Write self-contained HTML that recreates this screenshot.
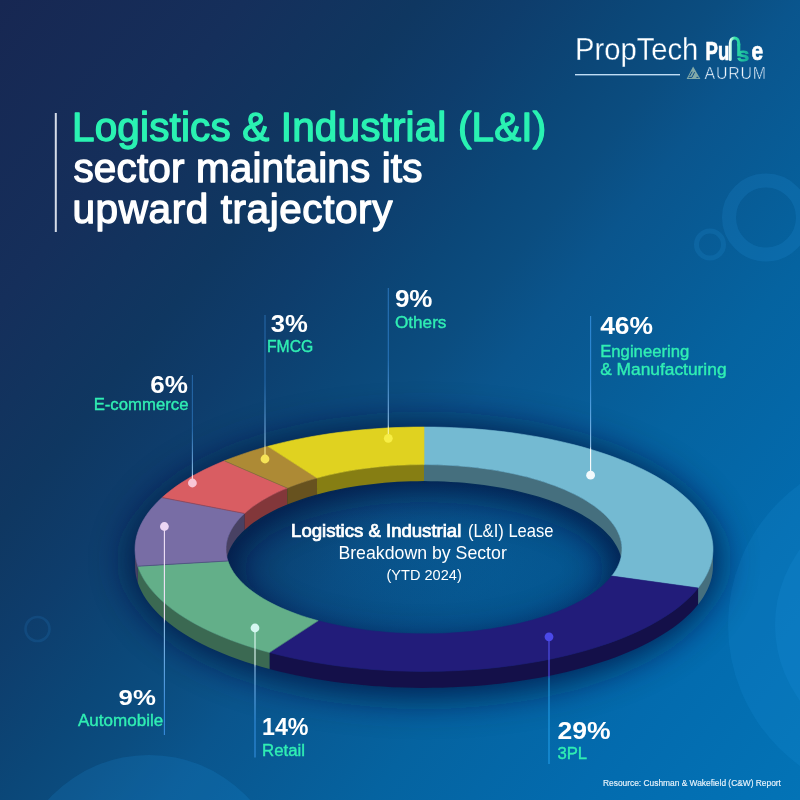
<!DOCTYPE html>
<html lang="en">
<head>
<meta charset="utf-8">
<title>Logistics &amp; Industrial (L&amp;I) sector maintains its upward trajectory</title>
<style>
html,body{margin:0;padding:0;width:800px;height:800px;overflow:hidden;background:#10538F;}
svg{display:block;font-family:"Liberation Sans",sans-serif;}
.g{fill:#2AF2B2;}
.w{fill:#ffffff;}
.pct{font-weight:700;fill:#fff;}
.lab{fill:#30EEB3;stroke:#30EEB3;stroke-width:0.4px;}
.h{font-size:40.5px;stroke-width:1.3px;stroke-linejoin:round;}
</style>
</head>
<body>
<svg width="800" height="800" viewBox="0 0 800 800">
<defs>
  <linearGradient id="bg" gradientUnits="userSpaceOnUse" x1="0" y1="0" x2="878" y2="702.4">
    <stop offset="0" stop-color="#172752"/>
    <stop offset="0.17" stop-color="#152F5B"/>
    <stop offset="0.29" stop-color="#0F3761"/>
    <stop offset="0.364" stop-color="#0E3D6C"/>
    <stop offset="0.445" stop-color="#0B4778"/>
    <stop offset="0.5" stop-color="#0B4D80"/>
    <stop offset="0.555" stop-color="#0A558D"/>
    <stop offset="0.7" stop-color="#0563A0"/>
    <stop offset="0.84" stop-color="#036BAE"/>
    <stop offset="1" stop-color="#0373B6"/>
  </linearGradient>
  <linearGradient id="wave" gradientUnits="userSpaceOnUse" x1="729" y1="0" x2="749" y2="0">
    <stop offset="0" stop-color="#ffffff"/>
    <stop offset="0.3" stop-color="#2FE3A6"/>
    <stop offset="1" stop-color="#14A79B"/>
  </linearGradient>
  <radialGradient id="hole">
    <stop offset="0" stop-color="#05143F" stop-opacity="0.06"/>
    <stop offset="0.4" stop-color="#05143F" stop-opacity="0.1"/>
    <stop offset="0.7" stop-color="#05143F" stop-opacity="0.17"/>
    <stop offset="0.85" stop-color="#05143F" stop-opacity="0.24"/>
    <stop offset="1" stop-color="#05143F" stop-opacity="0.36"/>
  </radialGradient>
  <filter id="sh" x="-20%" y="-40%" width="140%" height="180%">
    <feGaussianBlur stdDeviation="13"/><feGaussianBlur stdDeviation="12.5"/>
  </filter>
</defs>
<rect width="800" height="800" fill="url(#bg)"/>

<!-- decorative circles -->
<circle cx="766" cy="217.5" r="37" fill="none" stroke="#2A9BE6" stroke-opacity="0.17" stroke-width="14"/>
<circle cx="710" cy="244.5" r="13.5" fill="none" stroke="#2A9BE6" stroke-opacity="0.16" stroke-width="5"/>
<circle cx="37.5" cy="629" r="12" fill="none" stroke="#2A8AD6" stroke-opacity="0.17" stroke-width="2.6"/>
<circle cx="149" cy="891" r="136" fill="#1E9AEA" fill-opacity="0.16"/>
<circle cx="902" cy="625" r="174" fill="#2AA6F0" fill-opacity="0.13"/>
<circle cx="902" cy="625" r="127" fill="#2AA6F0" fill-opacity="0.13"/>

<!-- logo -->
<g id="logo">
<text transform="translate(575.00 60.10) scale(0.9422 1)" font-size="31" class="w" stroke="#0C528B" stroke-width="0.3">PropTech</text>
<text transform="translate(704.60 78.50) scale(0.9609 1)" font-size="16.6" class="w" stroke="#0C5A98" stroke-width="0.55" letter-spacing="0.8">AURUM</text>
  <path d="M730.3 59.5 V43 C730.3 36.2 738.7 36.2 738.7 43 V45" fill="none" stroke="url(#wave)" stroke-width="3" stroke-linecap="round"/>
  <text y="60.3" font-size="25" font-weight="700" fill="#fff" stroke="#fff" stroke-width="0.7"><tspan x="705.6" textLength="23.7" lengthAdjust="spacingAndGlyphs">Pu</tspan><tspan x="736.45" y="55.6" font-size="17" fill="url(#wave)" stroke="url(#wave)" stroke-width="0.6">l</tspan><tspan x="737.6" y="61.3" font-size="19" font-weight="400" fill="url(#wave)" stroke="url(#wave)" stroke-width="1.1" textLength="11.4" lengthAdjust="spacingAndGlyphs">s</tspan><tspan x="751.5" y="60.3" textLength="11.6" lengthAdjust="spacingAndGlyphs">e</tspan></text>
  <rect x="575" y="74" width="105" height="1.4" fill="#BFDDF5"/>
  <path d="M686.6 78.9 L693.1 66.4 L700.4 78.9 Z" fill="#8FB4AC" fill-opacity="0.9"/>
  <path d="M688.6 77.4 H691.9 L694.6 72.2 M692.2 71.6 L689.6 76.2 M696.4 77.4 H698.4" fill="none" stroke="#0B4C86" stroke-width="1"/>
</g>

<!-- heading -->
<rect x="54.8" y="113" width="2" height="119" fill="#D5DCE8"/>
<text x="72" y="140.6" class="h g" stroke="#2AF2B2" letter-spacing="0.14">Logistics &amp; Industrial (L&amp;I)</text>
<text x="73.5" y="182.25" class="h w" stroke="#ffffff" letter-spacing="0.12">sector maintains its</text>
<text x="72.5" y="223.4" class="h w" stroke="#ffffff" letter-spacing="0.58">upward trajectory</text>

<!-- donut shadow -->
<path d="M135.00 557.45 A289.00 130.45 0 1 1 713.00 557.45 A289.00 130.45 0 1 1 135.00 557.45 Z M226.00 565.70 A198.00 84.60 0 1 0 622.00 565.70 A198.00 84.60 0 1 0 226.00 565.70 Z" fill="#05143F" stroke="#05143F" stroke-width="16" fill-rule="evenodd" filter="url(#sh)" opacity="0.78" transform="translate(0,3)"/>
<ellipse cx="424" cy="562" rx="200" ry="92" fill="url(#hole)"/>

<!-- donut -->
<g id="donut">
<path d="M424.00 464.60 L430.76 464.65 L437.51 464.80 L444.25 465.04 L450.96 465.39 L457.64 465.83 L464.28 466.37 L470.88 467.01 L477.42 467.74 L483.90 468.56 L490.31 469.48 L496.64 470.50 L502.88 471.60 L509.04 472.80 L515.09 474.08 L521.04 475.46 L526.88 476.92 L532.59 478.46 L538.18 480.08 L543.64 481.79 L548.96 483.57 L554.13 485.44 L559.15 487.37 L564.01 489.38 L568.71 491.46 L573.24 493.60 L577.59 495.81 L581.77 498.08 L585.76 500.41 L589.56 502.80 L593.18 505.24 L596.59 507.74 L599.80 510.28 L602.81 512.87 L605.61 515.50 L608.20 518.16 L610.57 520.87 L612.72 523.61 L614.66 526.38 L616.37 529.17 L617.86 531.99 L619.12 534.83 L620.16 537.68 L620.96 540.55 L621.54 543.43 L621.88 546.31 L622.00 549.20 L622.00 565.70 L621.88 562.81 L621.54 559.93 L620.96 557.05 L620.16 554.18 L619.12 551.33 L617.86 548.49 L616.37 545.67 L614.66 542.88 L612.72 540.11 L610.57 537.37 L608.20 534.66 L605.61 532.00 L602.81 529.37 L599.80 526.78 L596.59 524.24 L593.18 521.74 L589.56 519.30 L585.76 516.91 L581.77 514.58 L577.59 512.31 L573.24 510.10 L568.71 507.96 L564.01 505.88 L559.15 503.87 L554.13 501.94 L548.96 500.07 L543.64 498.29 L538.18 496.58 L532.59 494.96 L526.88 493.42 L521.04 491.96 L515.09 490.58 L509.04 489.30 L502.88 488.10 L496.64 487.00 L490.31 485.98 L483.90 485.06 L477.42 484.24 L470.88 483.51 L464.28 482.87 L457.64 482.33 L450.96 481.89 L444.25 481.54 L437.51 481.30 L430.76 481.15 L424.00 481.10Z" fill="#456F7E"/>
<path d="M226.00 549.20 L226.11 546.36 L226.45 543.53 L227.00 540.70 L227.78 537.88 L228.78 535.07 L230.00 532.28 L231.44 529.51 L233.09 526.76 L234.97 524.03 L237.05 521.33 L239.34 518.67 L241.84 516.04 L244.55 513.45 L244.55 529.95 L241.84 532.54 L239.34 535.17 L237.05 537.83 L234.97 540.53 L233.09 543.26 L231.44 546.01 L230.00 548.78 L228.78 551.57 L227.78 554.38 L227.00 557.20 L226.45 560.03 L226.11 562.86 L226.00 565.70Z" fill="#484163"/>
<path d="M244.55 513.45 L247.48 510.88 L250.61 508.35 L253.94 505.87 L257.47 503.44 L261.18 501.06 L265.08 498.74 L269.16 496.47 L273.42 494.27 L277.85 492.12 L282.45 490.05 L287.21 488.04 L287.21 504.54 L282.45 506.55 L277.85 508.62 L273.42 510.77 L269.16 512.97 L265.08 515.24 L261.18 517.56 L257.47 519.94 L253.94 522.37 L250.61 524.85 L247.48 527.38 L244.55 529.95Z" fill="#82373A"/>
<path d="M287.21 488.04 L291.85 486.20 L296.64 484.42 L301.56 482.72 L306.60 481.08 L311.76 479.51 L317.03 478.01 L317.03 494.51 L311.76 496.01 L306.60 497.58 L301.56 499.22 L296.64 500.92 L291.85 502.70 L287.21 504.54Z" fill="#67521F"/>
<path d="M317.03 478.01 L322.69 476.51 L328.45 475.10 L334.33 473.77 L340.30 472.53 L346.37 471.37 L352.53 470.30 L358.77 469.32 L365.08 468.43 L371.46 467.63 L377.90 466.93 L384.39 466.31 L390.92 465.79 L397.49 465.36 L404.09 465.03 L410.72 464.79 L417.35 464.65 L424.00 464.60 L424.00 481.10 L417.35 481.15 L410.72 481.29 L404.09 481.53 L397.49 481.86 L390.92 482.29 L384.39 482.81 L377.90 483.43 L371.46 484.13 L365.08 484.93 L358.77 485.82 L352.53 486.80 L346.37 487.87 L340.30 489.03 L334.33 490.27 L328.45 491.60 L322.69 493.01 L317.03 494.51Z" fill="#867E13"/>
<path d="M713.00 549.20 L712.85 553.14 L712.40 557.09 L711.65 561.02 L710.59 564.94 L709.24 568.84 L707.59 572.73 L705.65 576.59 L703.41 580.42 L700.88 584.21 L698.07 587.97 L698.07 604.47 L700.88 600.71 L703.41 596.92 L705.65 593.09 L707.59 589.23 L709.24 585.34 L710.59 581.44 L711.65 577.52 L712.40 573.59 L712.85 569.64 L713.00 565.70Z" fill="#456F7E"/>
<path d="M698.07 587.97 L694.71 591.99 L691.02 595.95 L687.00 599.85 L682.67 603.70 L678.02 607.47 L673.07 611.18 L667.81 614.81 L662.26 618.36 L656.42 621.83 L650.29 625.21 L643.90 628.49 L637.23 631.68 L630.31 634.78 L623.13 637.76 L615.72 640.64 L608.07 643.41 L600.19 646.06 L592.11 648.60 L583.82 651.01 L575.33 653.31 L566.66 655.47 L557.82 657.51 L548.82 659.41 L539.67 661.19 L530.37 662.82 L520.95 664.32 L511.40 665.68 L501.76 666.89 L492.01 667.97 L482.19 668.90 L472.29 669.68 L462.34 670.32 L452.34 670.81 L442.30 671.15 L432.24 671.35 L422.18 671.40 L412.11 671.30 L402.06 671.05 L392.04 670.65 L382.05 670.11 L372.12 669.41 L362.24 668.58 L352.45 667.60 L342.74 666.47 L333.13 665.20 L323.63 663.79 L314.25 662.25 L305.00 660.56 L295.90 658.74 L286.95 656.79 L278.17 654.70 L269.57 652.49 L269.57 668.99 L278.17 671.20 L286.95 673.29 L295.90 675.24 L305.00 677.06 L314.25 678.75 L323.63 680.29 L333.13 681.70 L342.74 682.97 L352.45 684.10 L362.24 685.08 L372.12 685.91 L382.05 686.61 L392.04 687.15 L402.06 687.55 L412.11 687.80 L422.18 687.90 L432.24 687.85 L442.30 687.65 L452.34 687.31 L462.34 686.82 L472.29 686.18 L482.19 685.40 L492.01 684.47 L501.76 683.39 L511.40 682.18 L520.95 680.82 L530.37 679.32 L539.67 677.69 L548.82 675.91 L557.82 674.01 L566.66 671.97 L575.33 669.81 L583.82 667.51 L592.11 665.10 L600.19 662.56 L608.07 659.91 L615.72 657.14 L623.13 654.26 L630.31 651.28 L637.23 648.18 L643.90 644.99 L650.29 641.71 L656.42 638.33 L662.26 634.86 L667.81 631.31 L673.07 627.68 L678.02 623.97 L682.67 620.20 L687.00 616.35 L691.02 612.45 L694.71 608.49 L698.07 604.47Z" fill="#141049"/>
<path d="M269.57 652.49 L261.19 650.16 L253.01 647.71 L245.03 645.15 L237.26 642.46 L229.72 639.67 L222.42 636.76 L215.36 633.76 L208.54 630.64 L201.99 627.43 L195.71 624.13 L189.70 620.74 L183.97 617.26 L178.53 613.70 L173.39 610.06 L168.54 606.34 L164.01 602.56 L159.79 598.72 L155.89 594.81 L152.30 590.85 L149.05 586.84 L146.13 582.78 L143.54 578.69 L141.29 574.56 L139.38 570.39 L137.81 566.21 L137.81 582.71 L139.38 586.89 L141.29 591.06 L143.54 595.19 L146.13 599.28 L149.05 603.34 L152.30 607.35 L155.89 611.31 L159.79 615.22 L164.01 619.06 L168.54 622.84 L173.39 626.56 L178.53 630.20 L183.97 633.76 L189.70 637.24 L195.71 640.63 L201.99 643.93 L208.54 647.14 L215.36 650.26 L222.42 653.26 L229.72 656.17 L237.26 658.96 L245.03 661.65 L253.01 664.21 L261.19 666.66 L269.57 668.99Z" fill="#3B6952"/>
<path d="M137.81 566.21 L136.80 562.82 L136.01 559.43 L135.45 556.02 L135.11 552.61 L135.00 549.20 L135.00 565.70 L135.11 569.11 L135.45 572.52 L136.01 575.93 L136.80 579.32 L137.81 582.71Z" fill="#484163"/>
<path d="M424.00 427.00 L433.95 427.07 L443.89 427.29 L453.80 427.65 L463.68 428.16 L473.51 428.81 L483.28 429.60 L492.98 430.53 L502.60 431.61 L512.13 432.82 L521.55 434.17 L530.86 435.66 L540.04 437.28 L549.08 439.04 L557.97 440.92 L566.71 442.94 L575.28 445.08 L583.66 447.34 L591.86 449.73 L599.86 452.23 L607.65 454.85 L615.22 457.57 L622.57 460.41 L629.68 463.36 L636.55 466.40 L643.16 469.54 L649.52 472.78 L655.60 476.11 L661.42 479.52 L666.95 483.02 L672.19 486.60 L677.14 490.24 L681.79 493.96 L686.14 497.75 L690.17 501.60 L693.89 505.50 L697.28 509.45 L700.36 513.45 L703.11 517.50 L705.52 521.58 L707.60 525.69 L709.35 529.83 L710.76 534.00 L711.82 538.18 L712.55 542.38 L712.93 546.58 L712.98 550.79 L712.67 555.00 L712.03 559.19 L711.05 563.38 L709.72 567.55 L708.06 571.70 L706.06 575.82 L703.73 579.91 L701.06 583.96 L698.07 587.97 L611.77 576.04 L613.82 573.27 L615.65 570.46 L617.25 567.63 L618.62 564.78 L619.75 561.90 L620.66 559.02 L621.34 556.12 L621.78 553.21 L621.98 550.30 L621.95 547.39 L621.69 544.48 L621.19 541.57 L620.46 538.68 L619.50 535.79 L618.30 532.93 L616.88 530.08 L615.22 527.25 L613.34 524.45 L611.23 521.68 L608.91 518.94 L606.36 516.24 L603.59 513.58 L600.62 510.96 L597.43 508.38 L594.04 505.86 L590.45 503.38 L586.66 500.96 L582.68 498.60 L578.51 496.29 L574.15 494.05 L569.62 491.88 L564.91 489.77 L560.04 487.73 L555.01 485.77 L549.82 483.88 L544.48 482.07 L539.00 480.33 L533.39 478.68 L527.64 477.12 L521.77 475.63 L515.79 474.24 L509.69 472.93 L503.50 471.72 L497.21 470.60 L490.83 469.57 L484.38 468.63 L477.85 467.79 L471.26 467.05 L464.61 466.40 L457.92 465.85 L451.18 465.40 L444.42 465.05 L437.62 464.80 L430.82 464.65 L424.00 464.60Z" fill="#74BAD2" stroke="#74BAD2" stroke-width="0.6"/>
<path d="M698.07 587.97 L694.71 591.99 L691.02 595.95 L687.00 599.85 L682.67 603.70 L678.02 607.47 L673.07 611.18 L667.81 614.81 L662.26 618.36 L656.42 621.83 L650.29 625.21 L643.90 628.49 L637.23 631.68 L630.31 634.78 L623.13 637.76 L615.72 640.64 L608.07 643.41 L600.19 646.06 L592.11 648.60 L583.82 651.01 L575.33 653.31 L566.66 655.47 L557.82 657.51 L548.82 659.41 L539.67 661.19 L530.37 662.82 L520.95 664.32 L511.40 665.68 L501.76 666.89 L492.01 667.97 L482.19 668.90 L472.29 669.68 L462.34 670.32 L452.34 670.81 L442.30 671.15 L432.24 671.35 L422.18 671.40 L412.11 671.30 L402.06 671.05 L392.04 670.65 L382.05 670.11 L372.12 669.41 L362.24 668.58 L352.45 667.60 L342.74 666.47 L333.13 665.20 L323.63 663.79 L314.25 662.25 L305.00 660.56 L295.90 658.74 L286.95 656.79 L278.17 654.70 L269.57 652.49 L318.20 620.71 L324.09 622.24 L330.11 623.68 L336.24 625.04 L342.47 626.30 L348.81 627.46 L355.23 628.53 L361.74 629.51 L368.33 630.39 L374.98 631.17 L381.69 631.85 L388.45 632.43 L395.26 632.90 L402.10 633.28 L408.97 633.56 L415.85 633.73 L422.75 633.80 L429.65 633.77 L436.54 633.63 L443.41 633.39 L450.27 633.05 L457.09 632.61 L463.87 632.07 L470.60 631.42 L477.27 630.68 L483.88 629.84 L490.42 628.90 L496.88 627.86 L503.24 626.73 L509.52 625.50 L515.69 624.18 L521.74 622.77 L527.68 621.27 L533.49 619.69 L539.17 618.01 L544.71 616.26 L550.11 614.42 L555.35 612.51 L560.43 610.51 L565.34 608.44 L570.09 606.30 L574.66 604.10 L579.04 601.82 L583.23 599.48 L587.24 597.08 L591.04 594.62 L594.64 592.11 L598.04 589.54 L601.22 586.93 L604.19 584.27 L606.94 581.56 L609.47 578.82 L611.77 576.04Z" fill="#221C7A" stroke="#221C7A" stroke-width="0.6"/>
<path d="M269.57 652.49 L261.19 650.16 L253.01 647.71 L245.03 645.15 L237.26 642.46 L229.72 639.67 L222.42 636.76 L215.36 633.76 L208.54 630.64 L201.99 627.43 L195.71 624.13 L189.70 620.74 L183.97 617.26 L178.53 613.70 L173.39 610.06 L168.54 606.34 L164.01 602.56 L159.79 598.72 L155.89 594.81 L152.30 590.85 L149.05 586.84 L146.13 582.78 L143.54 578.69 L141.29 574.56 L139.38 570.39 L137.81 566.21 L227.93 560.97 L229.00 563.87 L230.31 566.75 L231.85 569.62 L233.62 572.45 L235.63 575.26 L237.86 578.03 L240.31 580.78 L242.98 583.48 L245.88 586.14 L248.98 588.76 L252.30 591.33 L255.82 593.85 L259.55 596.32 L263.47 598.73 L267.59 601.08 L271.90 603.36 L276.39 605.58 L281.05 607.74 L285.89 609.82 L290.90 611.83 L296.06 613.77 L301.38 615.63 L306.85 617.40 L312.46 619.10 L318.20 620.71Z" fill="#63AF89" stroke="#63AF89" stroke-width="0.6"/>
<path d="M137.81 566.21 L136.61 562.10 L135.75 557.97 L135.21 553.84 L135.00 549.70 L135.13 545.56 L135.59 541.43 L136.37 537.30 L137.49 533.19 L138.94 529.09 L140.71 525.02 L142.81 520.98 L145.24 516.97 L147.98 512.99 L151.04 509.06 L154.41 505.17 L158.09 501.34 L162.08 497.56 L244.55 513.45 L241.82 516.06 L239.30 518.72 L236.99 521.41 L234.89 524.13 L233.01 526.88 L231.35 529.66 L229.91 532.46 L228.70 535.28 L227.71 538.11 L226.94 540.96 L226.40 543.82 L226.09 546.68 L226.00 549.55 L226.14 552.41 L226.51 555.27 L227.11 558.13 L227.93 560.97Z" fill="#786DA5" stroke="#786DA5" stroke-width="0.6"/>
<path d="M162.08 497.56 L166.35 493.84 L170.92 490.19 L175.78 486.61 L180.93 483.10 L186.35 479.67 L192.04 476.31 L198.00 473.04 L204.21 469.85 L210.68 466.76 L217.39 463.76 L224.33 460.85 L287.21 488.04 L282.45 490.05 L277.85 492.12 L273.42 494.27 L269.16 496.47 L265.08 498.74 L261.18 501.06 L257.47 503.44 L253.94 505.87 L250.61 508.35 L247.48 510.88 L244.55 513.45Z" fill="#D95D62" stroke="#D95D62" stroke-width="0.6"/>
<path d="M224.33 460.85 L231.12 458.20 L238.11 455.64 L245.28 453.17 L252.64 450.80 L260.17 448.53 L267.87 446.37 L317.03 478.01 L311.76 479.51 L306.60 481.08 L301.56 482.72 L296.64 484.42 L291.85 486.20 L287.21 488.04Z" fill="#AD8A35" stroke="#AD8A35" stroke-width="0.6"/>
<path d="M267.87 446.37 L276.12 444.21 L284.54 442.17 L293.11 440.25 L301.84 438.45 L310.70 436.78 L319.68 435.24 L328.79 433.82 L338.00 432.54 L347.31 431.38 L356.71 430.36 L366.18 429.47 L375.72 428.72 L385.31 428.10 L394.94 427.62 L404.61 427.28 L414.30 427.07 L424.00 427.00 L424.00 464.60 L417.35 464.65 L410.72 464.79 L404.09 465.03 L397.49 465.36 L390.92 465.79 L384.39 466.31 L377.90 466.93 L371.46 467.63 L365.08 468.43 L358.77 469.32 L352.53 470.30 L346.37 471.37 L340.30 472.53 L334.33 473.77 L328.45 475.10 L322.69 476.51 L317.03 478.01Z" fill="#E0D220" stroke="#E0D220" stroke-width="0.6"/>
<path d="M318.20 620.71 L269.57 652.49" stroke="#1E2C55" stroke-opacity="0.35" stroke-width="0.7" fill="none"/>
<path d="M227.93 560.97 L137.81 566.21" stroke="#1E2C55" stroke-opacity="0.55" stroke-width="0.7" fill="none"/>
<path d="M244.55 513.45 L162.08 497.56" stroke="#1E2C55" stroke-opacity="0.45" stroke-width="0.7" fill="none"/>
<path d="M287.21 488.04 L224.33 460.85" stroke="#1E2C55" stroke-opacity="0.30" stroke-width="0.7" fill="none"/>
</g>

<!-- leader lines -->
<defs>
<linearGradient id="ll0" gradientUnits="userSpaceOnUse" x1="0" y1="475.2" x2="0" y2="316.0"><stop offset="0" stop-color="#FFFFFF"/><stop offset="0.160" stop-color="#FFFFFF"/><stop offset="0.180" stop-color="#9CCDF5" stop-opacity="0.9"/><stop offset="0.610" stop-color="#3A97EA" stop-opacity="0.75"/><stop offset="1" stop-color="#3A97EA" stop-opacity="0.75"/></linearGradient>
<linearGradient id="ll1" gradientUnits="userSpaceOnUse" x1="0" y1="438.3" x2="0" y2="288.0"><stop offset="0" stop-color="#FBF6A8"/><stop offset="0.070" stop-color="#FBF6A8"/><stop offset="0.090" stop-color="#9CCDF5" stop-opacity="0.9"/><stop offset="0.520" stop-color="#3A8EE0" stop-opacity="0.60"/><stop offset="1" stop-color="#3A8EE0" stop-opacity="0.60"/></linearGradient>
<linearGradient id="ll2" gradientUnits="userSpaceOnUse" x1="0" y1="459.0" x2="0" y2="315.0"><stop offset="0" stop-color="#F8EA90"/><stop offset="0.080" stop-color="#F8EA90"/><stop offset="0.100" stop-color="#9CCDF5" stop-opacity="0.9"/><stop offset="0.530" stop-color="#3A8EE0" stop-opacity="0.50"/><stop offset="1" stop-color="#3A8EE0" stop-opacity="0.50"/></linearGradient>
<linearGradient id="ll3" gradientUnits="userSpaceOnUse" x1="0" y1="483.0" x2="0" y2="375.0"><stop offset="0" stop-color="#FADCE6"/><stop offset="0.065" stop-color="#FADCE6"/><stop offset="0.085" stop-color="#9CCDF5" stop-opacity="0.9"/><stop offset="0.515" stop-color="#3A8EE0" stop-opacity="0.50"/><stop offset="1" stop-color="#3A8EE0" stop-opacity="0.50"/></linearGradient>
<linearGradient id="ll4" gradientUnits="userSpaceOnUse" x1="0" y1="526.5" x2="0" y2="735.0"><stop offset="0" stop-color="#F0E2F8"/><stop offset="0.446" stop-color="#F0E2F8"/><stop offset="0.466" stop-color="#9CCDF5" stop-opacity="0.9"/><stop offset="0.896" stop-color="#3F95EA" stop-opacity="0.85"/><stop offset="1" stop-color="#3F95EA" stop-opacity="0.85"/></linearGradient>
<linearGradient id="ll5" gradientUnits="userSpaceOnUse" x1="0" y1="628.0" x2="0" y2="757.5"><stop offset="0" stop-color="#E0FAF4"/><stop offset="0.284" stop-color="#E0FAF4"/><stop offset="0.304" stop-color="#9CCDF5" stop-opacity="0.9"/><stop offset="0.734" stop-color="#3A97EA" stop-opacity="0.85"/><stop offset="1" stop-color="#3A97EA" stop-opacity="0.85"/></linearGradient>
<linearGradient id="ll6" gradientUnits="userSpaceOnUse" x1="0" y1="636.8" x2="0" y2="764.0"><stop offset="0" stop-color="#5050EE"/><stop offset="0.310" stop-color="#5050EE"/><stop offset="0.330" stop-color="#22A0EC" stop-opacity="0.9"/><stop offset="0.760" stop-color="#22A0EC" stop-opacity="0.90"/><stop offset="1" stop-color="#22A0EC" stop-opacity="0.90"/></linearGradient>
</defs>
<rect x="590.05" y="316.0" width="1.1" height="159.2" fill="url(#ll0)"/>
<rect x="387.75" y="288.0" width="1.1" height="150.3" fill="url(#ll1)"/>
<rect x="264.45" y="315.0" width="1.1" height="144.0" fill="url(#ll2)"/>
<rect x="191.85" y="375.0" width="1.1" height="108.0" fill="url(#ll3)"/>
<rect x="163.85" y="526.5" width="1.1" height="208.5" fill="url(#ll4)"/>
<rect x="254.45" y="628.0" width="1.1" height="129.5" fill="url(#ll5)"/>
<rect x="548.45" y="636.8" width="1.1" height="127.2" fill="url(#ll6)"/>
<circle cx="590.6" cy="475.2" r="4.4" fill="#F2FAFD"/>
<circle cx="388.3" cy="438.3" r="4.4" fill="#F7EE45"/>
<circle cx="265.0" cy="459.0" r="4.4" fill="#F6E356"/>
<circle cx="192.4" cy="483.0" r="4.4" fill="#F8C6D6"/>
<circle cx="164.4" cy="526.5" r="4.4" fill="#ECD6F4"/>
<circle cx="255.0" cy="628.0" r="4.4" fill="#D5F7F1"/>
<circle cx="549.0" cy="636.8" r="4.4" fill="#4B49E8"/>

<!-- labels -->
<text transform="translate(600.15 334.30) scale(1.1475 1)" font-size="23" font-weight="700" class="pct" >46%</text>
<text transform="translate(600.15 356.50) scale(0.9779 1)" font-size="17.1" class="lab" >Engineering</text>
<text transform="translate(600.15 374.90) scale(1.0162 1)" font-size="17.1" class="lab" >&amp; Manufacturing</text>
<text transform="translate(394.90 307.10) scale(1.1313 1)" font-size="23" font-weight="700" class="pct" >9%</text>
<text transform="translate(394.90 327.60) scale(1.0058 1)" font-size="17.1" class="lab" >Others</text>
<text transform="translate(270.65 332.00) scale(1.1163 1)" font-size="23" font-weight="700" class="pct" >3%</text>
<text transform="translate(267.00 352.00) scale(0.9214 1)" font-size="17.1" class="lab" >FMCG</text>
<text transform="translate(150.35 392.80) scale(1.1328 1)" font-size="23" font-weight="700" class="pct" >6%</text>
<text transform="translate(93.65 410.00) scale(0.9787 1)" font-size="17.1" class="lab" >E-commerce</text>
<text transform="translate(118.60 704.80) scale(1.1223 1)" font-size="23" font-weight="700" class="pct" >9%</text>
<text transform="translate(78.00 726.00) scale(0.9966 1)" font-size="17.1" class="lab" >Automobile</text>
<text transform="translate(262.00 734.80) scale(1.0118 1)" font-size="23" font-weight="700" class="pct" >14%</text>
<text transform="translate(262.00 755.70) scale(0.9855 1)" font-size="17.1" class="lab" >Retail</text>
<text transform="translate(557.40 738.80) scale(1.1551 1)" font-size="23" font-weight="700" class="pct" >29%</text>
<text transform="translate(557.40 759.40) scale(0.9774 1)" font-size="17.1" class="lab" >3PL</text>

<!-- center text -->
<text transform="translate(291.10 536.90) scale(1.0552 1)" font-size="17.6" class="w" stroke="#fff" stroke-width="0.75">Logistics &amp; Industrial</text>
<text transform="translate(467.90 536.90) scale(0.9418 1)" font-size="17.6" class="w" >(L&amp;I) Lease</text>
<text transform="translate(338.40 558.80) scale(1.0016 1)" font-size="17.7" class="w" >Breakdown by Sector</text>
<text transform="translate(386.50 579.60) scale(0.9906 1)" font-size="14.7" class="w" >(YTD 2024)</text>

<!-- source -->
<text x="603" y="786.4" font-size="8.4" fill="#EAF4FC" stroke="#EAF4FC" stroke-width="0.15">Resource: Cushman &amp; Wakefield (C&amp;W) Report</text>
</svg>
</body>
</html>
